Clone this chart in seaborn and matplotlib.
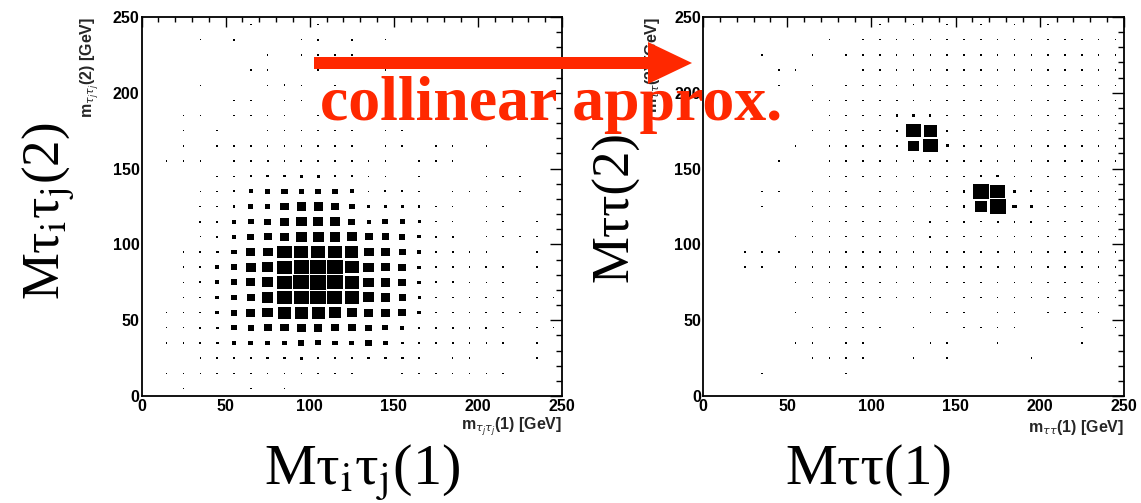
import numpy as np
import pandas as pd
import matplotlib
matplotlib.use("Agg")
import matplotlib.pyplot as plt
import seaborn as sns
from matplotlib.ticker import MultipleLocator
from matplotlib.path import Path
from matplotlib.patches import FancyArrow

# ---------------- data ----------------
bin_centers = [5, 15, 25, 35, 45, 55, 65, 75, 85, 95, 105, 115, 125,
               135, 145, 155, 165, 175, 185, 195, 205, 215, 225, 235, 245]
row_centers = bin_centers[::-1]  # rows below are listed from top (245) to bottom (5)

left_counts = [
    [0,0,0,0,0,0,8,0,0,0,8,0,0,0,0,0,0,0,0,0,0,0,0,0,0],
    [0,0,0,4,0,8,0,0,0,6,8,0,8,0,4,0,0,0,0,0,0,0,0,0,0],
    [0,0,0,0,0,0,0,4,0,6,4,4,4,0,0,0,0,0,0,0,0,0,0,0,0],
    [0,0,0,0,0,0,8,4,0,0,4,0,0,0,6,0,0,0,0,0,0,0,0,0,0],
    [0,0,0,4,0,0,0,4,8,6,0,4,0,0,0,0,0,0,0,0,0,0,0,0,0],
    [0,0,0,0,0,8,4,0,4,4,0,0,0,0,0,0,0,0,0,0,0,0,0,0,0],
    [0,0,4,6,0,6,6,4,6,0,4,0,0,0,6,0,0,0,0,0,0,0,0,0,0],
    [0,0,4,0,4,0,0,4,6,6,4,4,4,0,6,6,0,0,0,0,0,0,0,0,0],
    [0,0,4,0,4,4,4,4,6,6,6,6,8,0,4,4,0,4,4,0,4,0,0,0,0],
    [0,4,4,4,0,6,6,8,8,8,10,8,10,4,6,0,6,4,6,0,0,0,0,0,0],
    [0,0,0,0,4,6,8,12,12,14,14,12,8,6,6,0,4,0,0,0,6,4,4,0,0],
    [0,0,0,6,6,8,20,24,32,28,32,28,20,6,8,8,6,0,6,4,4,0,4,0,0],
    [0,0,0,8,8,12,24,28,44,50,50,44,28,14,14,16,12,6,4,0,4,4,0,0,0],
    [0,0,0,8,10,20,28,36,48,60,56,52,36,20,32,24,14,6,6,0,6,6,0,4,0],
    [0,0,0,6,10,20,36,44,52,60,64,60,56,44,40,32,16,8,8,0,6,6,4,4,0],
    [0,0,8,8,12,26,48,56,86,86,86,80,74,56,48,38,18,8,8,6,6,0,0,4,0],
    [0,0,8,8,22,32,56,62,86,94,100,96,84,58,48,42,16,8,8,6,8,6,0,4,0],
    [0,0,6,8,22,36,48,64,88,96,100,96,86,58,54,42,16,8,8,6,6,6,0,4,0],
    [0,0,8,8,18,32,46,66,90,94,94,92,84,64,54,36,14,8,8,8,8,6,0,4,4],
    [0,6,6,8,18,36,48,62,78,80,78,68,58,50,48,40,18,8,8,8,8,8,4,4,0],
    [0,4,6,8,12,26,32,42,44,52,46,44,42,38,30,22,10,8,8,8,8,6,0,4,4],
    [0,4,4,8,14,20,26,26,24,32,28,26,26,36,22,12,10,8,8,8,6,6,0,4,0],
    [0,0,0,6,8,10,10,12,10,16,10,10,10,12,10,14,6,0,6,8,0,0,0,4,0],
    [0,4,4,4,4,6,6,6,6,6,4,4,6,0,0,6,6,6,6,6,6,6,0,0,0],
    [0,0,4,0,0,0,4,0,4,0,0,0,0,0,0,0,0,0,0,0,0,0,0,0,0],
]

right_counts = [
    [0,0,0,0,0,0,0,0,0,0,4,0,4,0,4,0,4,0,4,0,4,0,0,0,0],
    [0,0,0,0,0,0,0,4,0,4,4,4,4,4,4,4,4,4,4,4,4,4,4,4,4],
    [0,0,0,4,0,0,4,0,4,4,4,4,4,4,4,4,4,4,4,4,4,4,4,4,4],
    [0,0,0,0,4,4,0,0,0,4,4,4,4,4,4,4,4,4,4,4,4,4,4,4,4],
    [0,0,0,0,4,0,4,0,4,4,4,4,8,4,4,4,4,4,4,4,4,4,4,4,4],
    [0,0,0,0,0,0,4,4,4,4,4,8,8,4,4,8,4,4,8,4,4,4,6,4,4],
    [0,0,0,0,0,0,0,4,4,4,8,10,10,10,6,6,6,6,6,4,4,4,4,4,4],
    [0,0,0,0,0,0,4,4,4,4,4,10,88,80,10,6,6,6,6,4,4,4,4,4,4],
    [0,0,0,0,0,4,0,4,4,4,4,8,60,88,14,8,6,6,6,6,4,4,4,4,4],
    [0,0,0,0,4,0,0,4,4,4,8,4,6,10,6,6,10,6,6,6,4,4,4,4,4],
    [0,0,0,0,0,0,0,4,4,4,4,4,4,6,6,6,12,12,6,4,4,4,4,4,4],
    [0,0,0,4,4,0,4,4,4,0,4,4,4,6,6,12,98,88,14,8,6,4,4,4,4],
    [0,0,0,4,0,0,4,4,4,4,4,4,4,4,4,10,70,99,20,12,8,8,8,4,4],
    [0,0,0,0,0,0,4,4,4,4,4,4,4,8,4,8,4,10,8,8,4,4,4,4,4],
    [0,0,0,0,0,4,4,4,4,4,4,4,4,8,4,4,4,6,4,4,4,4,4,4,4],
    [0,0,4,4,4,0,4,4,8,8,4,4,4,4,4,4,4,8,4,4,4,6,4,4,4],
    [0,0,4,4,0,4,4,4,6,6,4,4,4,4,4,4,8,8,4,4,4,4,4,4,4],
    [0,0,0,0,0,4,4,4,4,4,4,4,4,4,4,4,4,4,4,4,4,4,4,4,4],
    [0,0,0,0,0,0,4,4,4,4,4,4,4,4,0,4,4,4,4,4,4,4,6,4,4],
    [0,0,0,0,0,4,0,0,4,4,0,0,0,4,4,4,0,4,4,0,4,4,4,4,0],
    [0,0,0,0,0,0,4,4,4,4,4,0,4,0,0,4,4,4,4,0,0,0,4,0,4],
    [0,0,0,0,0,4,4,0,4,4,0,0,0,4,4,0,0,4,0,0,0,0,4,0,0],
    [0,0,0,0,0,0,4,4,4,4,0,0,4,0,4,0,0,0,0,4,0,0,0,0,0],
    [0,0,0,4,0,0,0,0,4,0,0,0,0,0,0,0,0,0,0,0,0,0,0,0,0],
    [0,0,0,0,0,0,0,0,0,0,0,0,0,0,0,0,0,0,0,0,0,0,0,0,0],
]

tick_values = [0, 50, 100, 150, 200, 250]
left_xtitle = r"m$_{\tau_{j}\tau_{j}}$(1) [GeV]"
left_ytitle = r"m$_{\tau_{j}\tau_{j}}$(2) [GeV]"
right_xtitle = r"m$_{\tau\tau}$(1) [GeV]"
right_ytitle = r"m$_{\tau\tau}$(2) [GeV]"
left_big_x = r"Mτ$_{\rm i}$τ$_{\rm j}$(1)"
left_big_y = r"Mτ$_{\rm i}$τ$_{\rm j}$(2)"
right_big_x = "Mττ(1)"
right_big_y = "Mττ(2)"
arrow_text = "collinear approx."

# ---------------- style ----------------
sns.set_theme(style="white")
plt.rcParams["font.family"] = ["Liberation Sans", "DejaVu Sans"]
plt.rcParams["mathtext.fontset"] = "dejavusans"

W, H, DPI = 1141, 503, 100
fig = plt.figure(figsize=(W / DPI, H / DPI), dpi=DPI)
fig.patch.set_facecolor("white")


def px_axes(x0, x1, ytop, ybot):
    return fig.add_axes([x0 / W, 1 - ybot / H, (x1 - x0) / W, (ybot - ytop) / H])


axL = px_axes(141.5, 562, 17, 396)
axR = px_axes(703, 1124, 17, 396)


def draw_panel(ax, counts, xtitle, ytitle):
    rows = []
    for yi, yc in enumerate(row_centers):
        for xi, xc in enumerate(bin_centers):
            v = counts[yi][xi]
            if v > 0:
                rows.append((xc, yc, v))
    df = pd.DataFrame(rows, columns=["x", "y", "count"])
    pos = ax.get_position()
    ax_w_px = pos.width * W
    ax_h_px = pos.height * H
    nb = len(bin_centers)
    bw_px = ax_w_px / nb
    bh_px = ax_h_px / nb
    frac = (df["count"] / df["count"].max()) ** 0.85 * 0.965
    w_px = np.maximum(frac * bw_px, 1.5)
    sizes = (w_px * 72.0 / DPI) ** 2
    asp = bh_px / bw_px
    rect = Path([(-0.5, -0.5 * asp), (0.5, -0.5 * asp), (0.5, 0.5 * asp),
                 (-0.5, 0.5 * asp), (-0.5, -0.5 * asp)],
                [Path.MOVETO, Path.LINETO, Path.LINETO, Path.LINETO, Path.CLOSEPOLY])
    sns.scatterplot(data=df, x="x", y="y", s=sizes.values, marker=rect,
                    color="black", edgecolor="none", linewidth=0, ax=ax,
                    legend=False)
    ax.set_xlim(0, 250)
    ax.set_ylim(0, 250)
    ax.set_xticks(tick_values)
    ax.set_yticks(tick_values)
    ax.xaxis.set_minor_locator(MultipleLocator(10))
    ax.yaxis.set_minor_locator(MultipleLocator(10))
    ax.tick_params(which="both", direction="in", top=True, right=True,
                   width=1.0, color="black", labelcolor="black")
    ax.tick_params(axis="x", which="major", length=7.2, pad=2.5)
    ax.tick_params(axis="x", which="minor", length=3.6)
    ax.tick_params(axis="y", which="major", length=8.4, pad=1.5)
    ax.tick_params(axis="y", which="minor", length=4.2)
    ax.set_xticklabels([str(t) for t in tick_values], fontsize=11.5, fontweight="bold")
    ax.set_yticklabels([str(t) for t in tick_values], fontsize=11.5, fontweight="bold")
    ax.set_xlabel("")
    ax.set_ylabel("")
    for sp in ax.spines.values():
        sp.set_linewidth(1.3)
        sp.set_color("black")
    ax.set_facecolor("white")
    # ROOT-style axis titles (right / top aligned)
    ax.text(1.0, -0.083, xtitle, transform=ax.transAxes, ha="right", va="center",
            fontsize=11.5, fontweight="bold")
    xc = (-51.0) / ax_w_px
    ax.text(xc, 1.0, ytitle, transform=ax.transAxes, ha="center", va="top",
            rotation=90, fontsize=11.5, fontweight="bold")


draw_panel(axL, left_counts, left_xtitle, left_ytitle)
draw_panel(axR, right_counts, right_xtitle, right_ytitle)

# big hand-written style labels
serif = ["Liberation Serif", "DejaVu Serif"]
fig.text(362 / W, 1 - 484 / H, left_big_x, ha="center", va="baseline",
         fontsize=42, family=serif, math_fontfamily="stix", color="black")
fig.text(869 / W, 1 - 484 / H, right_big_x, ha="center", va="baseline",
         fontsize=42, family=serif, math_fontfamily="stix", color="black")
fig.text(59 / W, 1 - 211 / H, left_big_y, ha="center", va="baseline",
         rotation=90, rotation_mode="anchor",
         fontsize=38, family=serif, math_fontfamily="stix", color="black")
fig.text(628 / W, 1 - 207 / H, right_big_y, ha="center", va="baseline",
         rotation=90, rotation_mode="anchor",
         fontsize=38, family=serif, math_fontfamily="stix", color="black")

# red arrow + annotation
red = "#FF2800"
arrow = FancyArrow(314 / W, 1 - 63 / H, (692 - 314) / W - 44 / W, 0,
                   width=12 / H, head_width=42 / H, head_length=44 / W,
                   length_includes_head=False, transform=fig.transFigure,
                   color=red, linewidth=0)
fig.add_artist(arrow)
fig.text(320 / W, 1 - 120 / H, arrow_text, ha="left", va="baseline",
         fontsize=46, fontweight="bold", family=serif, color=red)

fig.savefig("out.png", dpi=DPI, facecolor="white")
